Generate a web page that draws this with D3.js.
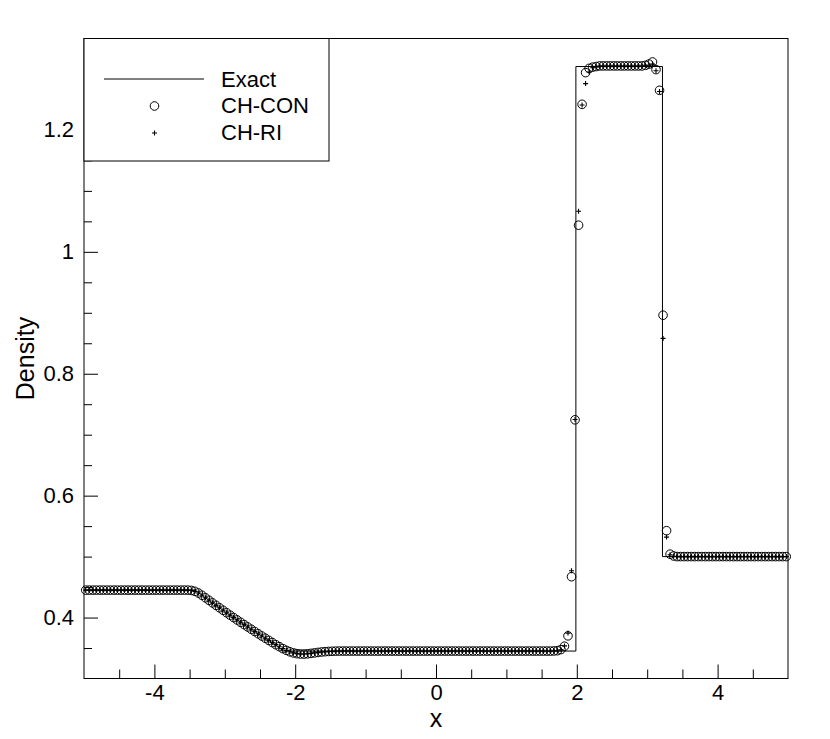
<!DOCTYPE html>
<html lang="en">
<head>
<meta charset="utf-8">
<title>Density</title>
<script src="https://d3js.org/d3.v7.min.js"></script>
<style>
  body { margin: 0; background: #fff; }
  text { font-family: "Liberation Sans", Arial, sans-serif; fill: #000; }
</style>
</head>
<body>
<svg id="chart" width="830" height="739"></svg>
<script>
// cell centres
const gridX = [
  -4.975,-4.925,-4.875,-4.825,-4.775,-4.725,-4.675,-4.625,-4.575,-4.525,
  -4.475,-4.425,-4.375,-4.325,-4.275,-4.225,-4.175,-4.125,-4.075,-4.025,
  -3.975,-3.925,-3.875,-3.825,-3.775,-3.725,-3.675,-3.625,-3.575,-3.525,
  -3.475,-3.425,-3.375,-3.325,-3.275,-3.225,-3.175,-3.125,-3.075,-3.025,
  -2.975,-2.925,-2.875,-2.825,-2.775,-2.725,-2.675,-2.625,-2.575,-2.525,
  -2.475,-2.425,-2.375,-2.325,-2.275,-2.225,-2.175,-2.125,-2.075,-2.025,
  -1.975,-1.925,-1.875,-1.825,-1.775,-1.725,-1.675,-1.625,-1.575,-1.525,
  -1.475,-1.425,-1.375,-1.325,-1.275,-1.225,-1.175,-1.125,-1.075,-1.025,
  -0.975,-0.925,-0.875,-0.825,-0.775,-0.725,-0.675,-0.625,-0.575,-0.525,
  -0.475,-0.425,-0.375,-0.325,-0.275,-0.225,-0.175,-0.125,-0.075,-0.025,
  0.025,0.075,0.125,0.175,0.225,0.275,0.325,0.375,0.425,0.475,
  0.525,0.575,0.625,0.675,0.725,0.775,0.825,0.875,0.925,0.975,
  1.025,1.075,1.125,1.175,1.225,1.275,1.325,1.375,1.425,1.475,
  1.525,1.575,1.625,1.675,1.725,1.775,1.825,1.875,1.925,1.975,
  2.025,2.075,2.125,2.175,2.225,2.275,2.325,2.375,2.425,2.475,
  2.525,2.575,2.625,2.675,2.725,2.775,2.825,2.875,2.925,2.975,
  3.025,3.075,3.125,3.175,3.225,3.275,3.325,3.375,3.425,3.475,
  3.525,3.575,3.625,3.675,3.725,3.775,3.825,3.875,3.925,3.975,
  4.025,4.075,4.125,4.175,4.225,4.275,4.325,4.375,4.425,4.475,
  4.525,4.575,4.625,4.675,4.725,4.775,4.825,4.875,4.925,4.975
];

const conDensity = [
  0.445,0.445,0.445,0.445,0.445,0.445,0.445,0.445,0.445,0.445,
  0.445,0.445,0.445,0.445,0.445,0.445,0.445,0.445,0.445,0.445,
  0.445,0.445,0.445,0.445,0.445,0.445,0.445,0.445,0.445,0.445,
  0.4445,0.4430,0.4403,0.4365,0.4324,0.4283,0.4241,0.4200,0.4160,0.4119,
  0.4079,0.4039,0.4000,0.3961,0.3922,0.3884,0.3846,0.3808,0.3771,0.3734,
  0.3697,0.3661,0.3625,0.3590,0.3555,0.3522,0.3490,0.3462,0.3438,0.3420,
  0.3408,0.3402,0.3401,0.3405,0.3412,0.3420,0.3428,0.3435,0.3440,0.3444,
  0.3447,0.3449,0.345,0.345,0.345,0.345,0.345,0.345,0.345,0.345,
  0.345,0.345,0.345,0.345,0.345,0.345,0.345,0.345,0.345,0.345,
  0.345,0.345,0.345,0.345,0.345,0.345,0.345,0.345,0.345,0.345,
  0.345,0.345,0.345,0.345,0.345,0.345,0.345,0.345,0.345,0.345,
  0.345,0.345,0.345,0.345,0.345,0.345,0.345,0.345,0.345,0.345,
  0.345,0.345,0.345,0.345,0.345,0.345,0.345,0.345,0.345,0.345,
  0.345,0.345,0.345,0.3452,0.3456,0.3475,0.3530,0.3700,0.4670,0.7244,
  1.0437,1.2420,1.2940,1.3010,1.3030,1.3040,1.3050,1.3050,1.3050,1.3050,
  1.3050,1.3050,1.3050,1.3050,1.3050,1.3050,1.3050,1.3050,1.3050,1.3060,
  1.3080,1.3115,1.2990,1.2650,0.8960,0.5425,0.5040,0.5010,0.500,0.500,
  0.500,0.500,0.500,0.500,0.500,0.500,0.500,0.500,0.500,0.500,
  0.500,0.500,0.500,0.500,0.500,0.500,0.500,0.500,0.500,0.500,
  0.500,0.500,0.500,0.500,0.500,0.500,0.500,0.500,0.500,0.500
];

const riDensity = [
  0.445,0.445,0.445,0.445,0.445,0.445,0.445,0.445,0.445,0.445,
  0.445,0.445,0.445,0.445,0.445,0.445,0.445,0.445,0.445,0.445,
  0.445,0.445,0.445,0.445,0.445,0.445,0.445,0.445,0.445,0.445,
  0.4445,0.4430,0.4403,0.4365,0.4324,0.4283,0.4241,0.4200,0.4160,0.4119,
  0.4079,0.4039,0.4000,0.3961,0.3922,0.3884,0.3846,0.3808,0.3771,0.3734,
  0.3697,0.3661,0.3625,0.3590,0.3555,0.3522,0.3490,0.3462,0.3438,0.3420,
  0.3408,0.3402,0.3401,0.3405,0.3412,0.3420,0.3428,0.3435,0.3440,0.3444,
  0.3447,0.3449,0.345,0.345,0.345,0.345,0.345,0.345,0.345,0.345,
  0.345,0.345,0.345,0.345,0.345,0.345,0.345,0.345,0.345,0.345,
  0.345,0.345,0.345,0.345,0.345,0.345,0.345,0.345,0.345,0.345,
  0.345,0.345,0.345,0.345,0.345,0.345,0.345,0.345,0.345,0.345,
  0.345,0.345,0.345,0.345,0.345,0.345,0.345,0.345,0.345,0.345,
  0.345,0.345,0.345,0.345,0.345,0.345,0.345,0.345,0.345,0.345,
  0.345,0.345,0.345,0.3452,0.3456,0.3470,0.3535,0.3745,0.4768,0.7250,
  1.0667,1.2410,1.2760,1.2950,1.3020,1.3035,1.3050,1.3050,1.3050,1.3050,
  1.3050,1.3050,1.3050,1.3050,1.3050,1.3050,1.3050,1.3050,1.3050,1.3060,
  1.3060,1.3080,1.2970,1.2630,0.8580,0.5320,0.5030,0.5005,0.500,0.500,
  0.500,0.500,0.500,0.500,0.500,0.500,0.500,0.500,0.500,0.500,
  0.500,0.500,0.500,0.500,0.500,0.500,0.500,0.500,0.500,0.500,
  0.500,0.500,0.500,0.500,0.500,0.500,0.500,0.500,0.500,0.500
];

// exact solution, read at its corners and along the fan
const exactX = [-5, -3.424, -3.375, -3.275, -3.175, -3.075, -2.975, -2.875, -2.775,
  -2.675, -2.575, -2.475, -2.375, -2.275, -2.17, 1.987, 1.987, 3.217, 3.217, 5];
const exactY = [0.445, 0.445, 0.4409, 0.4324, 0.4241, 0.4160, 0.4079, 0.4000, 0.3922,
  0.3846, 0.3771, 0.3697, 0.3624, 0.3552, 0.345, 0.345, 1.304, 1.304, 0.5, 0.5];

const xMajor = [-4, -2, 0, 2, 4];
const yMajor = [0.4, 0.6, 0.8, 1, 1.2];
const legendNames = ["Exact", "CH-CON", "CH-RI"];

const svg = d3.select("#chart");
const pl = 84, pr = 788, pt = 38.5, pb = 678.5;

const x = d3.scaleLinear().domain([-5, 5]).range([pl, pr]);
const y = d3.scaleLinear().domain([0.3, 1.35]).range([pb, pt]);

const xMinor = d3.range(-4.5, 5, 0.5).filter(v => !xMajor.includes(v));
const yMinor = d3.range(0.35, 1.35, 0.05).filter(v => !yMajor.some(m => Math.abs(m - v) < 1e-6));

// minor ticks
svg.append("g")
  .attr("transform", `translate(0,${pb})`)
  .call(d3.axisBottom(x).tickValues(xMinor).tickSize(-9).tickFormat(""))
  .call(g => g.select(".domain").remove());
svg.append("g")
  .attr("transform", `translate(${pl},0)`)
  .call(d3.axisLeft(y).tickValues(yMinor).tickSize(-8).tickFormat(""))
  .call(g => g.select(".domain").remove());

// major ticks with labels (plain hyphen for negatives)
svg.append("g")
  .attr("transform", `translate(0,${pb})`)
  .call(d3.axisBottom(x).tickValues(xMajor).tickSize(-14).tickPadding(6).tickFormat(d => String(d)))
  .call(g => g.select(".domain").remove())
  .call(g => g.selectAll("text").attr("font-size", 22).attr("font-family", "Liberation Sans, Arial, sans-serif"));
svg.append("g")
  .attr("transform", `translate(${pl},0)`)
  .call(d3.axisLeft(y).tickValues(yMajor).tickSize(-14).tickPadding(10).tickFormat(d => String(d)))
  .call(g => g.select(".domain").remove())
  .call(g => g.selectAll("text").attr("font-size", 22).attr("font-family", "Liberation Sans, Arial, sans-serif"));

svg.selectAll(".tick line").attr("stroke", "#000");

// frame
svg.append("rect")
  .attr("x", pl).attr("y", pt)
  .attr("width", pr - pl).attr("height", pb - pt)
  .attr("fill", "none").attr("stroke", "#000").attr("stroke-width", 1);

// exact line
const exact = exactX.map((v, i) => [v, exactY[i]]);
svg.append("path")
  .datum(exact)
  .attr("fill", "none")
  .attr("stroke", "#000")
  .attr("stroke-width", 1)
  .attr("d", d3.line().x(d => x(d[0])).y(d => y(d[1])));

// CH-CON circles
svg.append("g").selectAll("circle")
  .data(gridX.map((v, i) => [v, conDensity[i]]))
  .join("circle")
  .attr("cx", d => x(d[0]))
  .attr("cy", d => y(d[1]))
  .attr("r", 4.3)
  .attr("fill", "none")
  .attr("stroke", "#000")
  .attr("stroke-width", 1);

// CH-RI plus signs
const plus = "M-2.5,0H2.5M0,-2.5V2.5";
svg.append("g").selectAll("path")
  .data(gridX.map((v, i) => [v, riDensity[i]]))
  .join("path")
  .attr("transform", d => `translate(${x(d[0])},${y(d[1])})`)
  .attr("d", plus)
  .attr("stroke", "#000")
  .attr("stroke-width", 1.1);

// legend
const lg = svg.append("g");
lg.append("rect")
  .attr("x", pl).attr("y", pt)
  .attr("width", 329 - pl).attr("height", 161 - pt)
  .attr("fill", "#fff").attr("stroke", "#000").attr("stroke-width", 1);
lg.append("line")
  .attr("x1", 104).attr("x2", 204).attr("y1", 79).attr("y2", 79)
  .attr("stroke", "#000").attr("stroke-width", 1);
lg.append("circle")
  .attr("cx", 154.5).attr("cy", 106).attr("r", 4.3)
  .attr("fill", "none").attr("stroke", "#000").attr("stroke-width", 1);
lg.append("path")
  .attr("transform", "translate(154.5,133)")
  .attr("d", plus).attr("stroke", "#000").attr("stroke-width", 1.1);
lg.selectAll("text")
  .data(legendNames)
  .join("text")
  .attr("x", 221)
  .attr("y", (d, i) => 86.5 + i * 26.5)
  .attr("font-size", 22)
  .text(d => d);

// axis titles
svg.append("text")
  .attr("x", (pl + pr) / 2)
  .attr("y", 727)
  .attr("text-anchor", "middle")
  .attr("font-size", 25)
  .text("x");
svg.append("text")
  .attr("transform", `translate(34,${(pt + pb) / 2}) rotate(-90)`)
  .attr("text-anchor", "middle")
  .attr("font-size", 25)
  .text("Density");
</script>
</body>
</html>
